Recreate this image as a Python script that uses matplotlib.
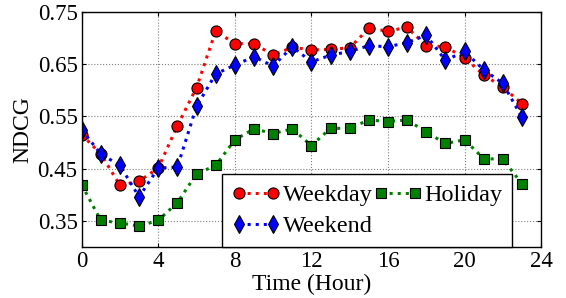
import matplotlib
matplotlib.use("Agg")
import matplotlib.pyplot as plt

hours = list(range(24))
weekday = [0.515, 0.478, 0.418, 0.426, 0.451, 0.532, 0.605, 0.713, 0.689, 0.689,
           0.667, 0.682, 0.677, 0.678, 0.681, 0.718, 0.713, 0.720, 0.685, 0.683,
           0.662, 0.629, 0.606, 0.574]
weekend = [0.524, 0.478, 0.456, 0.396, 0.451, 0.453, 0.569, 0.631, 0.648, 0.664,
           0.646, 0.683, 0.654, 0.667, 0.674, 0.685, 0.683, 0.691, 0.705, 0.657,
           0.674, 0.639, 0.613, 0.548]
holiday = [0.419, 0.351, 0.346, 0.340, 0.351, 0.385, 0.440, 0.456, 0.505, 0.526,
           0.517, 0.526, 0.494, 0.527, 0.527, 0.543, 0.540, 0.543, 0.520, 0.498,
           0.505, 0.469, 0.468, 0.421]

xticks = [0, 4, 8, 12, 16, 20, 24]
yticks = [0.35, 0.45, 0.55, 0.65, 0.75]

plt.rcParams["font.family"] = ["Liberation Serif", "DejaVu Serif"]
plt.rcParams["font.size"] = 17

fig = plt.figure(figsize=(5.66, 2.98), dpi=100)
ax = fig.add_axes([0.1443, 0.171, 0.8117, 0.7897])

style = dict(ls=":", lw=2.2, mec="black", mew=0.8)
ax.plot(hours, weekday, color="red", marker="o", ms=8, label="Weekday", **style)
ax.plot(hours, weekend, color="blue", marker="d", ms=9, label="Weekend", **style)
ax.plot(hours, holiday, color="green", marker="s", ms=7, label="Holiday", **style)

ax.set_xlim(0, 24)
ax.set_ylim(0.30, 0.75)
ax.set_xticks(xticks)
ax.set_yticks(yticks)
ax.set_yticklabels([f"{v:.2f}" for v in yticks])
ax.tick_params(direction="in", length=3, width=0.8, top=True, right=True,
               pad=3, labelsize=16.5)
ax.grid(True, color="gray", ls=":", lw=0.8)
for s in ax.spines.values():
    s.set_linewidth(1.0)

ax.set_xlabel("Time (Hour)", labelpad=1)
ax.set_ylabel("NDCG", labelpad=3)

h, l = ax.get_legend_handles_labels()
leg = ax.legend(h, l, ncol=2, numpoints=2, fontsize=17.5,
                loc="lower left", bbox_to_anchor=(0.3055, 0.0), fancybox=False,
                framealpha=1, edgecolor="black", borderaxespad=0,
                handlelength=2.0, handletextpad=0.1, columnspacing=0.03,
                labelspacing=0.38, borderpad=0.4)
leg.get_frame().set_linewidth(1.0)

fig.savefig("out.png", dpi=100)
